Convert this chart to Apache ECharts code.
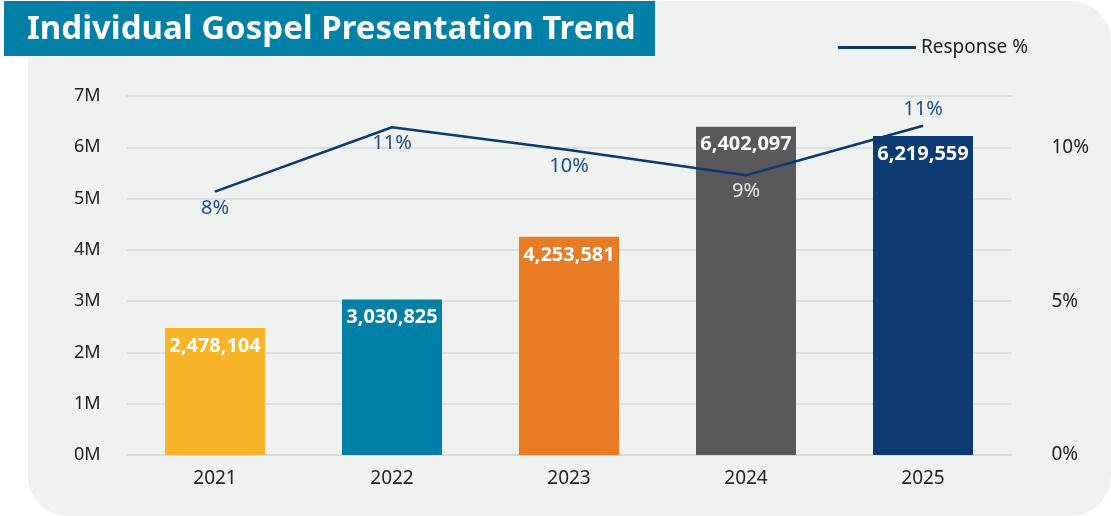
<!DOCTYPE html>
<html>
<head>
<meta charset="utf-8">
<script src="https://cdn.jsdelivr.net/npm/echarts@6/dist/echarts.min.js"></script>
<style>
  html, body { margin: 0; padding: 0; background: #ffffff; }
  #chart { width: 1111px; height: 516px; }
</style>
</head>
<body>
<div id="chart"></div>
<script>
// Data
const years = ["2021", "2022", "2023", "2024", "2025"];
const presentations = [2478104, 3030825, 4253581, 6402097, 6219559];
const responseRate = [8.56, 10.65, 9.91, 9.09, 10.7];
const responseLabels = ["8%", "11%", "10%", "9%", "11%"];
const leftTicks = [0, 1, 2, 3, 4, 5, 6, 7]; // millions
const rightTicks = [0, 5, 10]; // percent

const barColors = ["#f7b527", "#0080a6", "#e87b24", "#5a585b", "#0b3b70"];
const lineColor = "#0b3a6e";
const font = "'Noto Sans', sans-serif";

const chart = echarts.init(document.getElementById("chart"));

const option = {
  animation: false,
  textStyle: { fontFamily: font },
  graphic: [
    // light panel behind the plot
    {
      type: "rect",
      z: -10,
      shape: { x: 28, y: 1, width: 1083, height: 515, r: 40 },
      style: { fill: "#f0f1f1" },
    },
    // title banner
    {
      type: "rect",
      z: 10,
      shape: { x: 4, y: 1, width: 651, height: 55 },
      style: { fill: "#0080a6" },
    },
    {
      type: "text",
      z: 11,
      x: 27,
      y: 30,
      style: {
        text: "Individual Gospel Presentation Trend",
        fill: "#ffffff",
        font: "bold 33px 'Noto Sans', sans-serif",
        textVerticalAlign: "middle",
      },
    },
  ],
  legend: {
    data: [{ name: "Response %", icon: "rect" }],
    right: 78,
    top: 33,
    itemWidth: 78,
    itemHeight: 3,
    itemGap: 14,
    textStyle: { fontSize: 19, color: "#222", fontFamily: font },
  },
  grid: {
    left: 126.5,
    right: 99.5,
    top: 96,
    bottom: 61,
  },
  xAxis: {
    type: "category",
    data: years,
    axisLine: { lineStyle: { color: "#d9d9d9", width: 1.5 } },
    axisTick: { show: false },
    axisLabel: { fontSize: 19, color: "#222", margin: 14 },
  },
  yAxis: [
    {
      type: "value",
      min: leftTicks[0] * 1e6,
      max: leftTicks[leftTicks.length - 1] * 1e6,
      interval: 1e6,
      axisLabel: {
        fontSize: 18,
        color: "#222",
        margin: 26,
        formatter: (v) => v / 1e6 + "M",
      },
      splitLine: { lineStyle: { color: "#d9d9d9", width: 1.5 } },
    },
    {
      type: "value",
      min: rightTicks[0],
      max: (leftTicks[leftTicks.length - 1] / 6) * rightTicks[2],
      interval: 5,
      axisLabel: {
        fontSize: 19,
        color: "#222",
        margin: 40,
        formatter: (v) => (rightTicks.includes(v) ? v + "%" : ""),
      },
      splitLine: { show: false },
    },
  ],
  series: [
    {
      name: "Presentations",
      type: "bar",
      barWidth: 100,
      data: presentations.map((v, i) => ({
        value: v,
        itemStyle: { color: barColors[i] },
      })),
      label: {
        show: true,
        position: "insideTop",
        distance: 8,
        color: "#ffffff",
        fontWeight: "bold",
        fontSize: 20,
        formatter: (p) => p.value.toLocaleString("en-US"),
      },
    },
    {
      name: "Response %",
      type: "line",
      yAxisIndex: 1,
      z: 5,
      symbol: "circle",
      symbolSize: 1,
      itemStyle: { color: lineColor },
      lineStyle: { color: lineColor, width: 2.5 },
      data: responseRate.map((v, i) => ({
        value: v,
        label: {
          position: i === responseRate.length - 1 ? "top" : "bottom",
          color: i === 3 ? "#e8e8e8" : "#1f4e8a",
        },
      })),
      label: {
        show: true,
        fontSize: 20,
        distance: 6,
        formatter: (p) => responseLabels[p.dataIndex],
      },
    },
  ],
};

chart.setOption(option);
</script>
</body>
</html>
